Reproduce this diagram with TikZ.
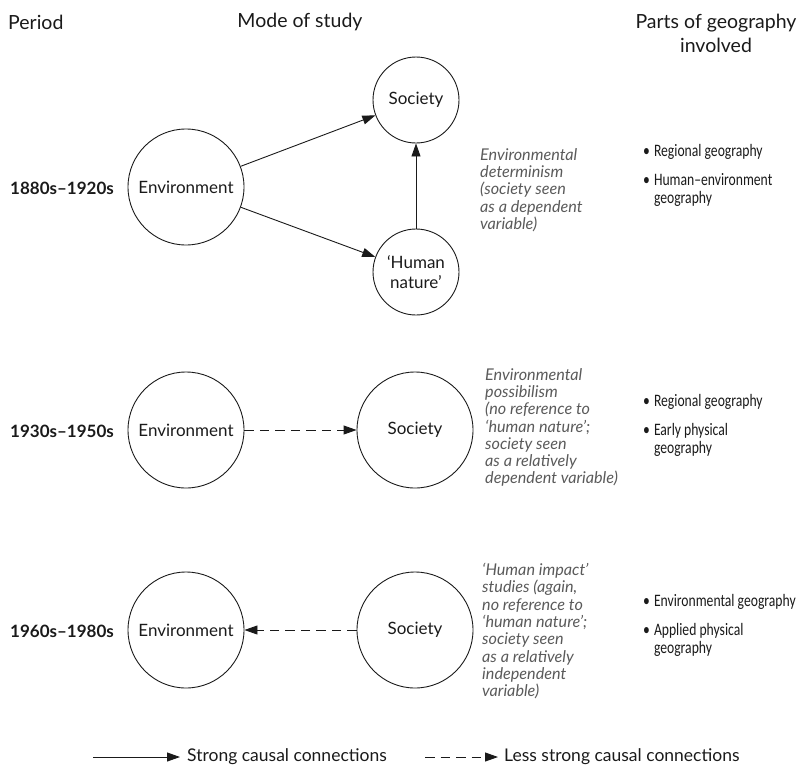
\documentclass[tikz,border=0pt]{standalone}
\usepackage{fontspec}
\setmainfont{Lato}
\newfontfamily\narrowfont[FakeStretch=0.78]{Carlito}
\usetikzlibrary{arrows.meta}
\definecolor{ink}{HTML}{1A1A1A}
\definecolor{notegray}{HTML}{5A5A5A}

\begin{document}
\begin{tikzpicture}[x=1pt,y=-1pt,
  heading/.style={text=ink, font=\fontsize{19.5}{24}\selectfont, align=center, inner sep=0pt},
  period/.style={text=ink, font=\bfseries\fontsize{17}{20}\selectfont, anchor=west, inner sep=0pt},
  bubble/.style={circle, draw=ink, line width=0.9pt, inner sep=0pt, align=center,
                 text=ink, font=\fontsize{17}{20}\selectfont},
  bigbubble/.style={bubble, minimum size=116pt},
  smallbubble/.style={bubble, minimum size=86pt},
  notetext/.style={font=\itshape\fontsize{16.2}{17.3}\selectfont, text=notegray,
                   align=left, anchor=north west, inner sep=0pt},
  parts/.style={font=\narrowfont\fontsize{17.5}{18}\selectfont, text=ink,
                anchor=north west, inner sep=0pt},
  legendtext/.style={text=ink, font=\fontsize{17.5}{20}\selectfont, anchor=west, inner sep=0pt},
  strong/.style={draw=ink, line width=0.9pt, -{Triangle[length=13pt,width=9pt]}},
  weak/.style={strong, dash pattern=on 9.5pt off 6pt},
]
\useasboundingbox (0,0) rectangle (800,769);

% column headings
\node[heading, anchor=west] (hperiod) at (8,22) {Period};
\node[heading] (hmode) at (300,22) {Mode of study};
\node[heading] (hparts) at (716,33) {Parts of geography\\involved};

% 1880s-1920s: environmental determinism
\node[period] (p1) at (10,188) {1880s–1920s};
\node[bigbubble] (env1) at (186,187) {Environment};
\node[smallbubble] (soc1) at (416,100) {Society};
\node[smallbubble] (hum1) at (416,272) {‘Human\\nature’};
\draw[strong] (env1) -- (soc1);
\draw[strong] (env1) -- (hum1);
\draw[strong] (hum1) -- (soc1);
\node[notetext] (n1) at (480,148) {Environmental\\determinism\\(society seen\\as a dependent\\variable)};
\node[parts] (g1) at (643,144) {\begin{tabular}{@{}l@{\hspace{4pt}}l@{}}
  • & Regional geography\\[11pt]
  • & Human–environment\\
    & geography
\end{tabular}};

% 1930s-1950s: environmental possibilism
\node[period] (p2) at (10,431) {1930s–1950s};
\node[bigbubble] (env2) at (186,430) {Environment};
\node[bigbubble] (soc2) at (415,430) {Society};
\draw[weak] (env2) -- (soc2);
\node[notetext] (n2) at (485,368) {Environmental\\possibilism\\(no reference to\\‘human nature’;\\society seen\\as a relatively\\dependent variable)};
\node[parts] (g2) at (643,394) {\begin{tabular}{@{}l@{\hspace{4pt}}l@{}}
  • & Regional geography\\[11pt]
  • & Early physical\\
    & geography
\end{tabular}};

% 1960s-1980s: human impact studies
\node[period] (p3) at (10,631) {1960s–1980s};
\node[bigbubble] (env3) at (186,630) {Environment};
\node[bigbubble] (soc3) at (415,630) {Society};
\draw[weak] (soc3) -- (env3);
\node[notetext] (n3) at (482,563) {‘Human impact’\\studies (again,\\no reference to\\‘human nature’;\\society seen\\as a relatively\\independent\\variable)};
\node[parts] (g3) at (643,594) {\begin{tabular}{@{}l@{\hspace{4pt}}l@{}}
  • & Environmental geography\\[11pt]
  • & Applied physical\\
    & geography
\end{tabular}};

% key
\coordinate (k1) at (93,757);
\node[legendtext] (k1t) at (187,757) {Strong causal connections};
\draw[strong, shorten >=7pt] (k1) -- (k1t.west);
\coordinate (k2) at (425,757);
\node[legendtext] (k2t) at (504,757) {Less strong causal connections};
\draw[weak, shorten >=6pt] (k2) -- (k2t.west);
\end{tikzpicture}
\end{document}
